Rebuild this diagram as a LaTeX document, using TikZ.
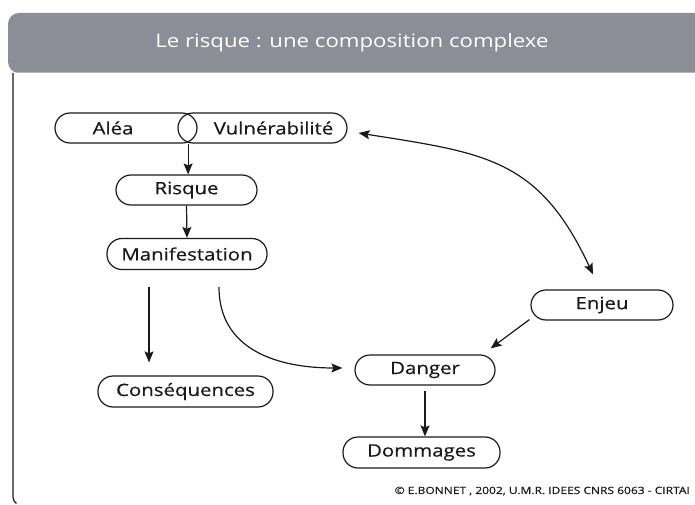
\documentclass[tikz,border=0pt]{standalone}
\usepackage{fontspec}
\newfontfamily\diagfont[FakeStretch=1.2]{Open Sans}
\newfontfamily\boxfont[FakeStretch=1.2,FakeBold=0.6]{Open Sans}
\usetikzlibrary{arrows.meta}
\definecolor{ink}{HTML}{1A1A1A}
\definecolor{headgray}{HTML}{8C8E97}
\definecolor{headline}{HTML}{B4B5BB}
\begin{document}
\begin{tikzpicture}[x=1pt,y=1pt,
  pill/.style={draw=ink, line width=1.2pt, rounded corners=15pt,
    minimum height=30pt, inner sep=0pt, text=ink,
    font={\boxfont\fontsize{17}{20}\selectfont}},
  arr/.style={draw=ink, line width=1.2pt,
    -{Stealth[length=11pt,width=9pt,inset=2pt]}},
  dblarr/.style={draw=ink, line width=1.2pt,
    {Stealth[length=11pt,width=9pt,inset=2pt]}-{Stealth[length=11pt,width=9pt,inset=2pt]}},
]
\useasboundingbox (0,0) rectangle (695,504);

% header band and frame
\fill[headgray, rounded corners=11pt] (720,491) -- (8,491) -- (8,431) -- (720,431) -- cycle;
\draw[headline, line width=1pt] (18,431) -- (695,431);
\node[text=white, font={\diagfont\fontsize{18.5}{22}\selectfont}] (title) at (352,461)
  {Le risque : une composition complexe};
\draw[ink, line width=1.2pt] (13,431) -- (13,7) arc[start angle=180, end angle=235, radius=8];

% boxes
\node[pill, minimum width=142pt] (alea) at (126,376) {Aléa\hspace*{26pt}};
\node[pill, minimum width=169pt] (vuln) at (262.5,376) {\hspace*{22pt}Vulnérabilité};
\node[pill, minimum width=141pt] (risque) at (186.5,314) {Risque};
\node[pill, minimum width=160pt, minimum height=31pt] (manif) at (187,250) {Manifestation};
\node[pill, minimum width=175pt, minimum height=31pt] (cons) at (185.5,112.5) {Conséquences};
\node[pill, minimum width=140pt] (danger) at (425,134) {Danger};
\node[pill, minimum width=157pt, minimum height=31pt] (domm) at (421.5,51.5) {Dommages};
\node[pill, minimum width=142pt] (enjeu) at (602,199) {Enjeu};

% connector end points
\coordinate (lens) at ([xshift=-9.5pt]alea.south east);
\coordinate (m1) at ([xshift=-38pt,yshift=-17pt]manif.south);
\coordinate (m2) at ([xshift=32pt,yshift=-17pt]manif.south);
\coordinate (c1) at ([yshift=13pt]cons.north -| m1);
\coordinate (d1) at ([xshift=-12pt,yshift=2pt]danger.west);
\coordinate (d2) at ([xshift=-5pt,yshift=6pt]danger.north east);
\coordinate (e1) at ([xshift=-1pt,yshift=1pt]enjeu.south west);
\coordinate (e2) at ([xshift=-9pt,yshift=15pt]enjeu.north);
\coordinate (v1) at ([xshift=11pt,yshift=-5pt]vuln.east);

% connectors
\draw[arr] (lens) -- (lens |- risque.north);
\draw[arr] (risque.south) -- (manif.north);
\draw[arr] (m1) -- (c1);
\draw[arr] (m2) to[out=-90, in=180, looseness=1.1] (d1);
\draw[arr] (e1) -- (d2);
\draw[arr] ([yshift=-5pt]danger.south) -- (danger.south |- domm.north);
\draw[dblarr] (v1) to[out=-9, in=115, looseness=1.2] (e2);

% credit line
\node[anchor=east, text=ink, inner sep=0pt, font={\boxfont\fontsize{10}{12}\selectfont}] (credit) at (690,13)
  {© E.BONNET , 2002, U.M.R. IDEES CNRS 6063 - CIRTAI};
\end{tikzpicture}
\end{document}
